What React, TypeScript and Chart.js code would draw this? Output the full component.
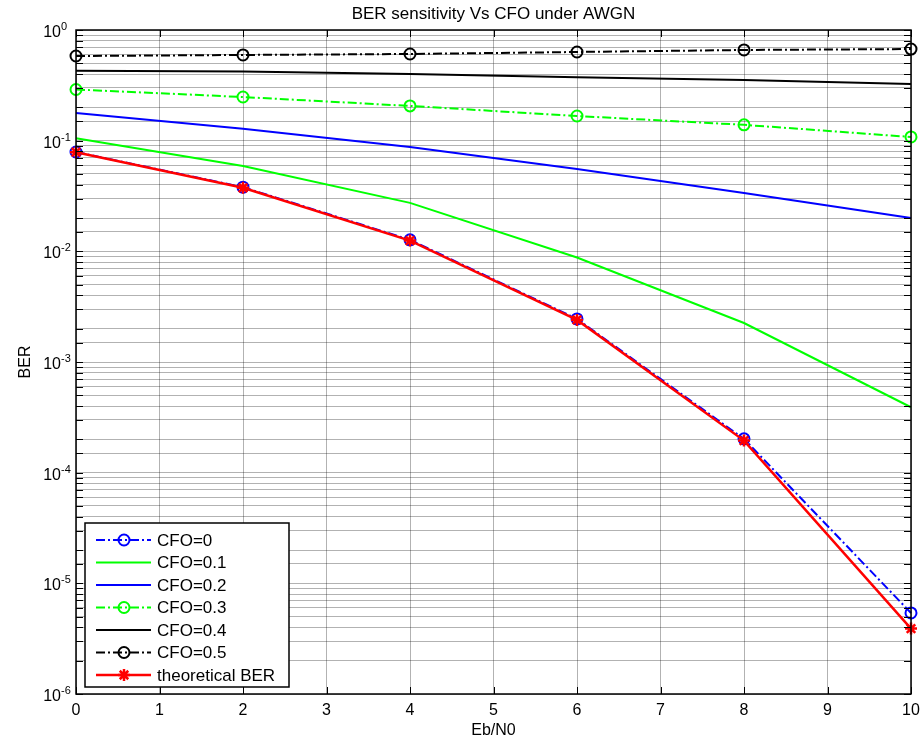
import React, { useEffect, useRef } from 'react';
import { Chart, registerables } from 'chart.js';

Chart.register(...registerables);

// ---- data ----
const ebN0 = [0, 2, 4, 6, 8, 10];
const cfo0 = [0.079, 0.038, 0.0127, 0.00245, 2.02e-4, 5.4e-6];
const cfo01 = [0.105, 0.059, 0.0274, 0.0088, 0.00225, 3.9e-4];
const cfo02 = [0.178, 0.128, 0.0877, 0.0555, 0.0337, 0.02];
const cfo03 = [0.29, 0.248, 0.206, 0.167, 0.139, 0.108];
const cfo04 = [0.429, 0.422, 0.401, 0.375, 0.353, 0.325];
const cfo05 = [0.582, 0.595, 0.607, 0.633, 0.66, 0.673];
const theoretical = [0.0786, 0.0375, 0.0125, 0.0024, 1.95e-4, 3.9e-6];

const xTickValues = [0, 1, 2, 3, 4, 5, 6, 7, 8, 9, 10];
const yDecadeExponents = [0, -1, -2, -3, -4, -5, -6];

const titleText = 'BER sensitivity Vs CFO under AWGN';
const xTitle = 'Eb/N0';
const yTitle = 'BER';

const FONT = '"Liberation Sans", Arial, Helvetica, sans-serif';
const DASHDOT = [9, 3, 2, 3];

const pts = (ys: number[]) => ebN0.map((x, i) => ({ x, y: ys[i] }));

function drawMarker(ctx: CanvasRenderingContext2D, style: string, x: number, y: number, r: number) {
  ctx.beginPath();
  if (style === 'circle') {
    ctx.arc(x, y, r, 0, Math.PI * 2);
  } else if (style === 'star') {
    const d = r * Math.SQRT1_2;
    ctx.moveTo(x - r, y); ctx.lineTo(x + r, y);
    ctx.moveTo(x, y - r); ctx.lineTo(x, y + r);
    ctx.moveTo(x - d, y - d); ctx.lineTo(x + d, y + d);
    ctx.moveTo(x - d, y + d); ctx.lineTo(x + d, y - d);
  }
  ctx.stroke();
}

const decorPlugin = {
  id: 'matlabDecor',
  afterDatasetsDraw(chart: any) {
    const { ctx, chartArea: a, scales } = chart;
    const xs = scales.x;
    const ys = scales.y;
    ctx.save();
    // inside tick marks
    ctx.strokeStyle = '#000';
    ctx.lineWidth = 1;
    ctx.setLineDash([]);
    ctx.beginPath();
    ys.ticks.forEach((t: any) => {
      const p = Math.round(ys.getPixelForValue(t.value)) + 0.5;
      ctx.moveTo(a.left, p); ctx.lineTo(a.left + 7, p);
      ctx.moveTo(a.right, p); ctx.lineTo(a.right - 7, p);
    });
    xs.ticks.forEach((t: any) => {
      const p = Math.round(xs.getPixelForValue(t.value)) + 0.5;
      ctx.moveTo(p, a.bottom); ctx.lineTo(p, a.bottom - 7);
      ctx.moveTo(p, a.top); ctx.lineTo(p, a.top + 7);
    });
    ctx.stroke();
    // frame
    ctx.lineWidth = 1.5;
    ctx.strokeRect(a.left, a.top, a.right - a.left, a.bottom - a.top);

    // y tick labels 10^n
    ctx.fillStyle = '#000';
    yDecadeExponents.forEach((e) => {
      const p = ys.getPixelForValue(Math.pow(10, e));
      ctx.font = `16px ${FONT}`;
      ctx.textAlign = 'right';
      ctx.textBaseline = 'alphabetic';
      ctx.fillText('10', a.left - 15, p + 7);
      ctx.font = `11px ${FONT}`;
      ctx.textAlign = 'left';
      ctx.fillText(e === 0 ? '0' : `-${-e}`, a.left - 15, p);
    });

    // title
    ctx.font = `17px ${FONT}`;
    ctx.textAlign = 'center';
    ctx.textBaseline = 'alphabetic';
    ctx.fillText(titleText, (a.left + a.right) / 2, 18.5);

    // legend
    const lx = 85, ly = 523, lw = 204, lh = 164;
    ctx.fillStyle = '#fff';
    ctx.fillRect(lx, ly, lw, lh);
    ctx.strokeStyle = '#000';
    ctx.lineWidth = 1.5;
    ctx.strokeRect(lx, ly, lw, lh);
    chart.data.datasets.forEach((ds: any, i: number) => {
      const y = 540 + i * 22.5;
      ctx.strokeStyle = ds.borderColor;
      ctx.lineWidth = ds.borderWidth;
      ctx.setLineDash(ds.borderDash || []);
      ctx.beginPath();
      ctx.moveTo(96, y); ctx.lineTo(151, y);
      ctx.stroke();
      ctx.setLineDash([]);
      if (ds.pointRadius > 0) {
        ctx.lineWidth = ds.pointBorderWidth;
        ctx.strokeStyle = ds.pointBorderColor;
        drawMarker(ctx, ds.pointStyle, 124, y, ds.pointRadius);
      }
      ctx.fillStyle = '#000';
      ctx.font = `17px ${FONT}`;
      ctx.textAlign = 'left';
      ctx.textBaseline = 'middle';
      ctx.fillText(ds.label, 157, y + 1);
    });
    ctx.restore();
  },
};

function lineDs(label: string, ys: number[], color: string, dashed: boolean, marker: string | null, width = 2) {
  return {
    label,
    data: pts(ys),
    borderColor: color,
    backgroundColor: 'rgba(0,0,0,0)',
    borderWidth: width,
    borderDash: dashed ? DASHDOT : [],
    pointStyle: marker || 'circle',
    pointRadius: marker ? (marker === 'star' ? 6 : 5.5) : 0,
    pointBorderWidth: marker === 'star' ? 2.5 : 2,
    pointBorderColor: color,
    pointBackgroundColor: 'rgba(0,0,0,0)',
    pointHoverRadius: 0,
    tension: 0,
    clip: false,
    order: label === 'theoretical BER' ? 0 : 1,
  };
}

export default function App() {
  const ref = useRef<HTMLCanvasElement | null>(null);
  useEffect(() => {
    if (!ref.current) return;
    const chart = new Chart(ref.current, {
      type: 'line',
      data: {
        datasets: [
          lineDs('CFO=0', cfo0, '#0000ff', true, 'circle'),
          lineDs('CFO=0.1', cfo01, '#00ff00', false, null),
          lineDs('CFO=0.2', cfo02, '#0000ff', false, null),
          lineDs('CFO=0.3', cfo03, '#00ff00', true, 'circle'),
          lineDs('CFO=0.4', cfo04, '#000000', false, null),
          lineDs('CFO=0.5', cfo05, '#000000', true, 'circle'),
          lineDs('theoretical BER', theoretical, '#ff0000', false, 'star', 2.5),
        ] as any,
      },
      options: {
        responsive: false,
        animation: false,
        layout: { padding: { top: 30, right: 11, left: 0, bottom: 0 } },
        plugins: {
          legend: { display: false },
          title: { display: false },
          tooltip: { enabled: false },
        },
        scales: {
          x: {
            type: 'linear',
            min: 0,
            max: 10,
            afterBuildTicks: (s: any) => {
              s.ticks = xTickValues.map((v) => ({ value: v }));
            },
            ticks: { color: '#000', font: { family: FONT, size: 16 }, padding: 7, maxRotation: 0 },
            grid: { color: 'rgba(0,0,0,0.3)', lineWidth: 1, drawTicks: false },
            border: { display: false },
            title: {
              display: true,
              text: xTitle,
              color: '#000',
              font: { family: FONT, size: 16 },
              padding: { top: 0, bottom: 0 },
            },
            afterFit: (s: any) => {
              s.height = 46;
              s.paddingLeft = 0;
              s.paddingRight = 0;
            },
          },
          y: {
            type: 'logarithmic',
            min: 1e-6,
            max: 1,
            ticks: { display: false, autoSkip: false },
            grid: { color: 'rgba(0,0,0,0.3)', lineWidth: 1, drawTicks: false },
            border: { display: false },
            title: {
              display: true,
              text: yTitle,
              color: '#000',
              font: { family: FONT, size: 16 },
              padding: { top: 16, bottom: 0 },
            },
            afterFit: (s: any) => {
              s.width = 76;
              s.paddingTop = 0;
              s.paddingBottom = 0;
            },
          },
        },
      } as any,
      plugins: [decorPlugin],
    });
    return () => chart.destroy();
  }, []);
  return (
    <div style={{ position: 'absolute', left: 0, top: 0, width: 922, height: 740, background: '#fff' }}>
      <canvas ref={ref} width={922} height={740} style={{ display: 'block' }} />
    </div>
  );
}
